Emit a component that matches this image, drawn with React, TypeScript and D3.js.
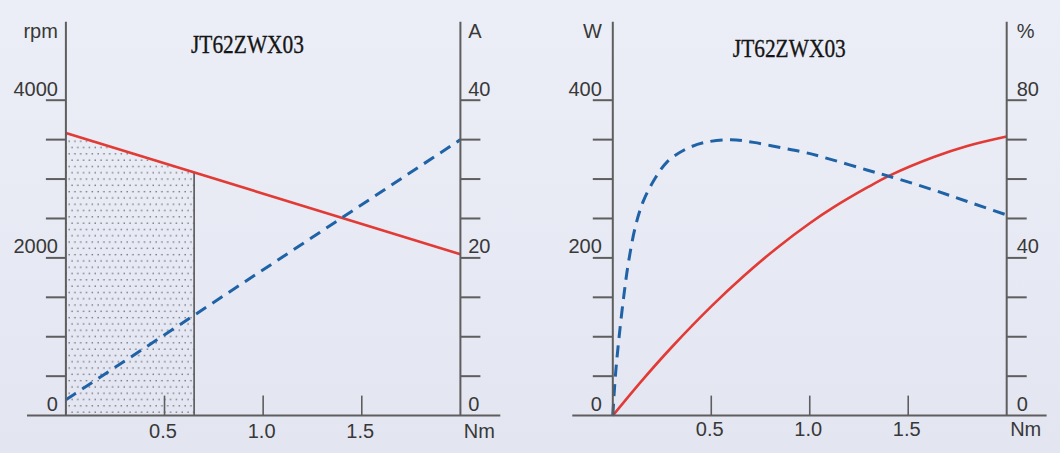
import React from "react";
import * as d3 from "d3";

// ---------- data ----------
const chartTitle = "JT62ZWX03";
const torqueTicks = [0.5, 1.0, 1.5];
const torqueTickLabels = ["0.5", "1.0", "1.5"];
const torqueUnit = "Nm";

// left panel: speed (rpm) and current (A) vs torque
const speedTorque = [0, 2.0];
const speedRpm = [3585, 2045];
const currentTorque = [0, 2.0];
const currentAmp = [2, 35];
const ratedTorque = 0.65;
const rpmTicks = [500, 1000, 1500, 2000, 2500, 3000, 3500, 4000];
const rpmLabels = [0, 2000, 4000];
const ampTicks = [5, 10, 15, 20, 25, 30, 35, 40];
const ampLabels = [0, 20, 40];

// right panel: output power (W) and efficiency (%) vs torque
const powerTorque = [0, 0.15, 0.3, 0.5, 0.665, 0.835, 1.0, 1.12, 1.29, 1.41, 1.63, 1.8, 2.0];
const powerW = [0, 45, 87, 138.5, 177, 213, 244, 264, 289, 305, 328, 342, 354];
const effTorque = [0, 0.013, 0.03, 0.055, 0.08, 0.115, 0.155, 0.215, 0.275, 0.36, 0.46, 0.6, 0.715, 0.85, 0.98, 1.12, 1.29, 1.41, 1.63, 1.8, 2.0];
const effPct = [0, 10, 19, 30, 39, 48, 54.4, 60.2, 64.3, 67.3, 69.2, 70, 69.3, 68, 66.7, 64.8, 62.3, 60.6, 57.2, 54.3, 50.9];
const wTicks = [50, 100, 150, 200, 250, 300, 350, 400];
const wLabels = [0, 200, 400];
const pctTicks = [10, 20, 30, 40, 50, 60, 70, 80];
const pctLabels = [0, 40, 80];

// ---------- styles ----------
const RED = "#e23a35";
const BLUE = "#1f62a6";
const AXIS = "#5e5e5e";
const TXT = "#383838";
const SANS = "'Liberation Sans', Arial, Helvetica, sans-serif";
const SERIF = "'Liberation Serif', 'Times New Roman', serif";

const Y0 = 415.6;
const YTOP = 100.2;
const AXIS_TOP = 21.7;

type PanelProps = {
  x0: number;
  x1: number;
  axisStart: number;
  axisEnd: number;
  leftDomain: number;
  rightDomain: number;
  leftTicks: number[];
  rightTicks: number[];
  leftLabels: number[];
  rightLabels: number[];
  leftUnit: string;
  rightUnit: string;
  leftLabelGap: number;
  rightLabelGap: number;
  titleX: number;
  titleY: number;
  xLabelY: number;
  children: (x: d3.ScaleLinear<number, number>, yl: d3.ScaleLinear<number, number>, yr: d3.ScaleLinear<number, number>) => React.ReactNode;
};

function Panel(p: PanelProps) {
  const x = d3.scaleLinear().domain([0, 2]).range([p.x0, p.x1]);
  const yl = d3.scaleLinear().domain([0, p.leftDomain]).range([Y0, YTOP]);
  const yr = d3.scaleLinear().domain([0, p.rightDomain]).range([Y0, YTOP]);
  return (
    <g>
      {p.children(x, yl, yr)}
      {/* axes */}
      <line x1={p.axisStart} x2={p.axisEnd} y1={Y0} y2={Y0} stroke={AXIS} strokeWidth={2} />
      <line x1={p.x0} x2={p.x0} y1={AXIS_TOP} y2={Y0} stroke={AXIS} strokeWidth={2} />
      <line x1={p.x1} x2={p.x1} y1={AXIS_TOP} y2={Y0} stroke={AXIS} strokeWidth={2} />
      {p.leftTicks.map((t) => (
        <line key={"lt" + t} x1={p.x0 - 20} x2={p.x0} y1={yl(t)} y2={yl(t)} stroke={AXIS} strokeWidth={2} />
      ))}
      {p.rightTicks.map((t) => (
        <line key={"rt" + t} x1={p.x1} x2={p.x1 + 20} y1={yr(t)} y2={yr(t)} stroke={AXIS} strokeWidth={2} />
      ))}
      {torqueTicks.map((t) => (
        <line key={"xt" + t} x1={x(t)} x2={x(t)} y1={Y0 - 20} y2={Y0} stroke={AXIS} strokeWidth={1.6} />
      ))}
      {/* labels */}
      <g fontFamily={SANS} fontSize={20} fill={TXT}>
        {p.leftLabels.map((t) => (
          <text key={"ll" + t} x={p.x0 - p.leftLabelGap} y={yl(t) - 4.5} textAnchor="end">{t}</text>
        ))}
        {p.rightLabels.map((t) => (
          <text key={"rl" + t} x={p.x1 + p.rightLabelGap} y={yr(t) - 4.5}>{t}</text>
        ))}
        {torqueTicks.map((t, i) => (
          <text key={"xl" + t} x={x(t) - 1.5} y={p.xLabelY} textAnchor="middle">{torqueTickLabels[i]}</text>
        ))}
        <text x={p.x1 + 19} y={p.xLabelY} textAnchor="middle">{torqueUnit}</text>
        <text x={p.x0 - p.leftLabelGap} y={37.5} textAnchor="end">{p.leftUnit}</text>
        <text x={p.x1 + p.rightLabelGap} y={37.5}>{p.rightUnit}</text>
      </g>
      <text x={p.titleX} y={p.titleY} textAnchor="middle" fontFamily={SERIF} fontSize={26} fill="#151515"
        stroke="#151515" strokeWidth={0.35}
        textLength={113} lengthAdjust="spacingAndGlyphs">{chartTitle}</text>
    </g>
  );
}

export default function App() {
  const lineGen = (xs: number[], ys: number[], x: any, y: any, curve: d3.CurveFactory) =>
    d3.line<number>().x((_, i) => x(xs[i])).y((d) => y(d)).curve(curve)(ys) || "";

  return (
    <div style={{ position: "absolute", left: 0, top: 0 }}>
      <svg width={1060} height={453} style={{ display: "block" }}>
        <defs>
          <linearGradient id="bg" x1="0" y1="0" x2="0" y2="1">
            <stop offset="0" stopColor="#eceef7" />
            <stop offset="1" stopColor="#e3e6f1" />
          </linearGradient>
          <pattern id="dots" width={11.6} height={12.6} patternUnits="userSpaceOnUse" x={67} y={0}>
            <rect x={1.5} y={2} width={1.3} height={1.3} fill="#5e5e68" />
            <rect x={7.3} y={2} width={1.3} height={1.3} fill="#5e5e68" />
            <rect x={4.4} y={8.3} width={1.3} height={1.3} fill="#5e5e68" />
            <rect x={10.2} y={8.3} width={1.3} height={1.3} fill="#5e5e68" />
          </pattern>
        </defs>
        <rect width={1060} height={453} fill="url(#bg)" />

        <Panel x0={65.9} x1={460.4} axisStart={27} axisEnd={500.3}
          leftDomain={4000} rightDomain={40}
          leftTicks={rpmTicks} rightTicks={ampTicks}
          leftLabels={rpmLabels} rightLabels={ampLabels}
          leftUnit="rpm" rightUnit="A" leftLabelGap={8} rightLabelGap={7.8}
          titleX={247.5} titleY={52.5} xLabelY={437.7}>
          {(x, yl, yr) => {
            const speedAt = d3.scaleLinear().domain(speedTorque).range(speedRpm);
            const area = d3.area<number>().x((t) => x(t)).y0(Y0).y1((t) => yl(speedAt(t)));
            return (
              <g>
                <path d={area([0, ratedTorque]) || ""} fill="url(#dots)" />
                <line x1={x(ratedTorque)} x2={x(ratedTorque)} y1={yl(speedAt(ratedTorque))} y2={Y0} stroke="#555" strokeWidth={1.6} />
                <path d={lineGen(speedTorque, speedRpm, x, yl, d3.curveLinear)} fill="none" stroke={RED} strokeWidth={2.6} />
                <path d={lineGen(currentTorque, currentAmp, x, yr, d3.curveLinear)} fill="none" stroke={BLUE} strokeWidth={3} strokeDasharray="12 7.5" />
              </g>
            );
          }}
        </Panel>

        <Panel x0={612.8} x1={1006.7} axisStart={572.3} axisEnd={1046.6}
          leftDomain={400} rightDomain={80}
          leftTicks={wTicks} rightTicks={pctTicks}
          leftLabels={wLabels} rightLabels={pctLabels}
          leftUnit="W" rightUnit="%" leftLabelGap={11} rightLabelGap={10}
          titleX={789.3} titleY={57} xLabelY={435.7}>
          {(x, yl, yr) => (
            <g>
              <path d={lineGen(powerTorque, powerW, x, yl, d3.curveCatmullRom)} fill="none" stroke={RED} strokeWidth={2.6} />
              <path d={lineGen(effTorque, effPct, x, yr, d3.curveCatmullRom)} fill="none" stroke={BLUE} strokeWidth={3} strokeDasharray="12 7.5" />
            </g>
          )}
        </Panel>
      </svg>
    </div>
  );
}
